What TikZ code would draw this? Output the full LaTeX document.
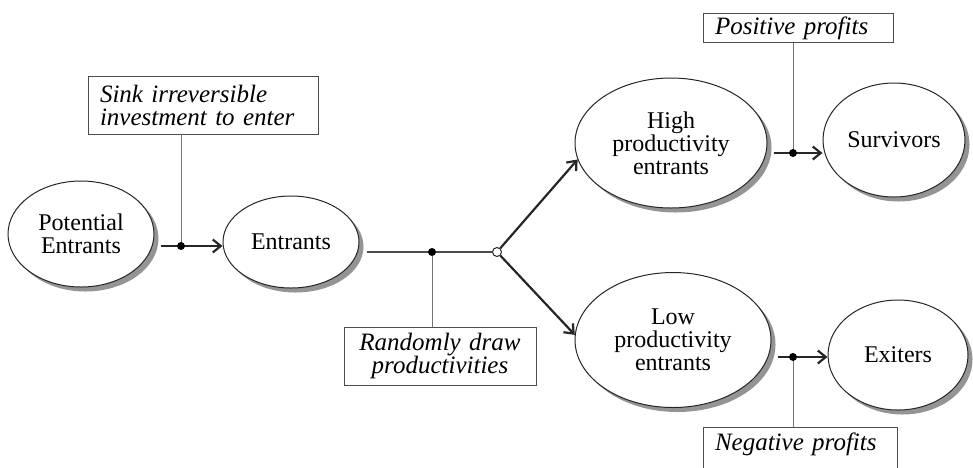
\documentclass[tikz,border=0pt]{standalone}
\usepackage{fontspec}
\setmainfont{Liberation Serif}
\usetikzlibrary{shapes.geometric, shadows, arrows.meta}

\begin{document}
\begin{tikzpicture}[x=1pt, y=-1pt,
    font=\fontsize{24}{23}\selectfont,
    stage/.style = {ellipse, draw=black!85, line width=1pt, fill=white, inner sep=0pt, align=center,
        drop shadow={shadow xshift=4.5pt, shadow yshift=-4.5pt, fill=black!42, opacity=1}},
    note/.style = {draw=black!70, line width=0.9pt, font=\fontsize{25}{23}\selectfont\itshape,
        inner xsep=12pt, inner ysep=3pt, align=left},
    flow/.style = {line width=2.2pt, black!85, shorten <=6pt, -{Straight Barb[length=8pt, width=13pt]}},
    stem/.style = {line width=1pt, black!55}]
    \useasboundingbox (0,0) rectangle (973,467);
    \clip (0,0) rectangle (973,467);

    % stages
    \node [stage, minimum width=146, minimum height=106] (pot) at (81,234) {Potential\\Entrants};
    \node [stage, minimum width=136, minimum height=92] (ent) at (291,242) {Entrants};
    \node [stage, minimum width=192, minimum height=130] (high) at (671,143) {High\\productivity\\entrants};
    \node [stage, minimum width=142, minimum height=114] (surv) at (894,140) {Survivors};
    \node [stage, minimum width=196, minimum height=135] (low) at (673,340) {Low\\productivity\\entrants};
    \node [stage, minimum width=140, minimum height=110] (exit) at (898,355) {Exiters};

    % notes
    \node [note, text width=206, minimum height=58] (sink) at (203,105) {Sink irreversible\\investment to enter};
    \node [note, text width=168, minimum height=58, align=center] (rand) at (440,356) {Randomly draw\\productivities};
    \node [note, text width=166, anchor=north] (pos) at (798,13) {Positive profits};
    \node [note, text width=170, anchor=north, inner ysep=5pt, text depth=24pt] (neg) at (800,427) {Negative profits};

    % joints
    \coordinate (d1) at (181,246);
    \coordinate (d2) at (432,252);
    \coordinate (d3) at (793,153);
    \coordinate (d4) at (793,357);
    \node [circle, draw=black!85, line width=1pt, fill=white, inner sep=0pt, minimum size=9] (br) at (497,252) {};

    % connectors
    \draw [flow] (pot.east |- d1) -- (ent.west |- d1);
    \draw [stem] (d1) -- (d1 |- sink.south);
    \draw [line width=1.3pt, black!70, shorten <=7pt] (ent.east |- br) -- (br);
    \draw [stem] (d2) -- (d2 |- rand.north);
    \draw [flow, shorten <=0pt] (br) -- (high.190);
    \draw [flow, shorten <=0pt] (br) -- (low.177);
    \draw [flow] (high.east |- d3) -- (surv.west |- d3);
    \draw [stem] (d3) -- (d3 |- pos.south);
    \draw [flow] (low.east |- d4) -- (exit.west |- d4);
    \draw [stem] (d4) -- (d4 |- neg.north);
    \foreach \d in {d1, d2, d3, d4}
        \fill (\d) circle (4);
\end{tikzpicture}
\end{document}
